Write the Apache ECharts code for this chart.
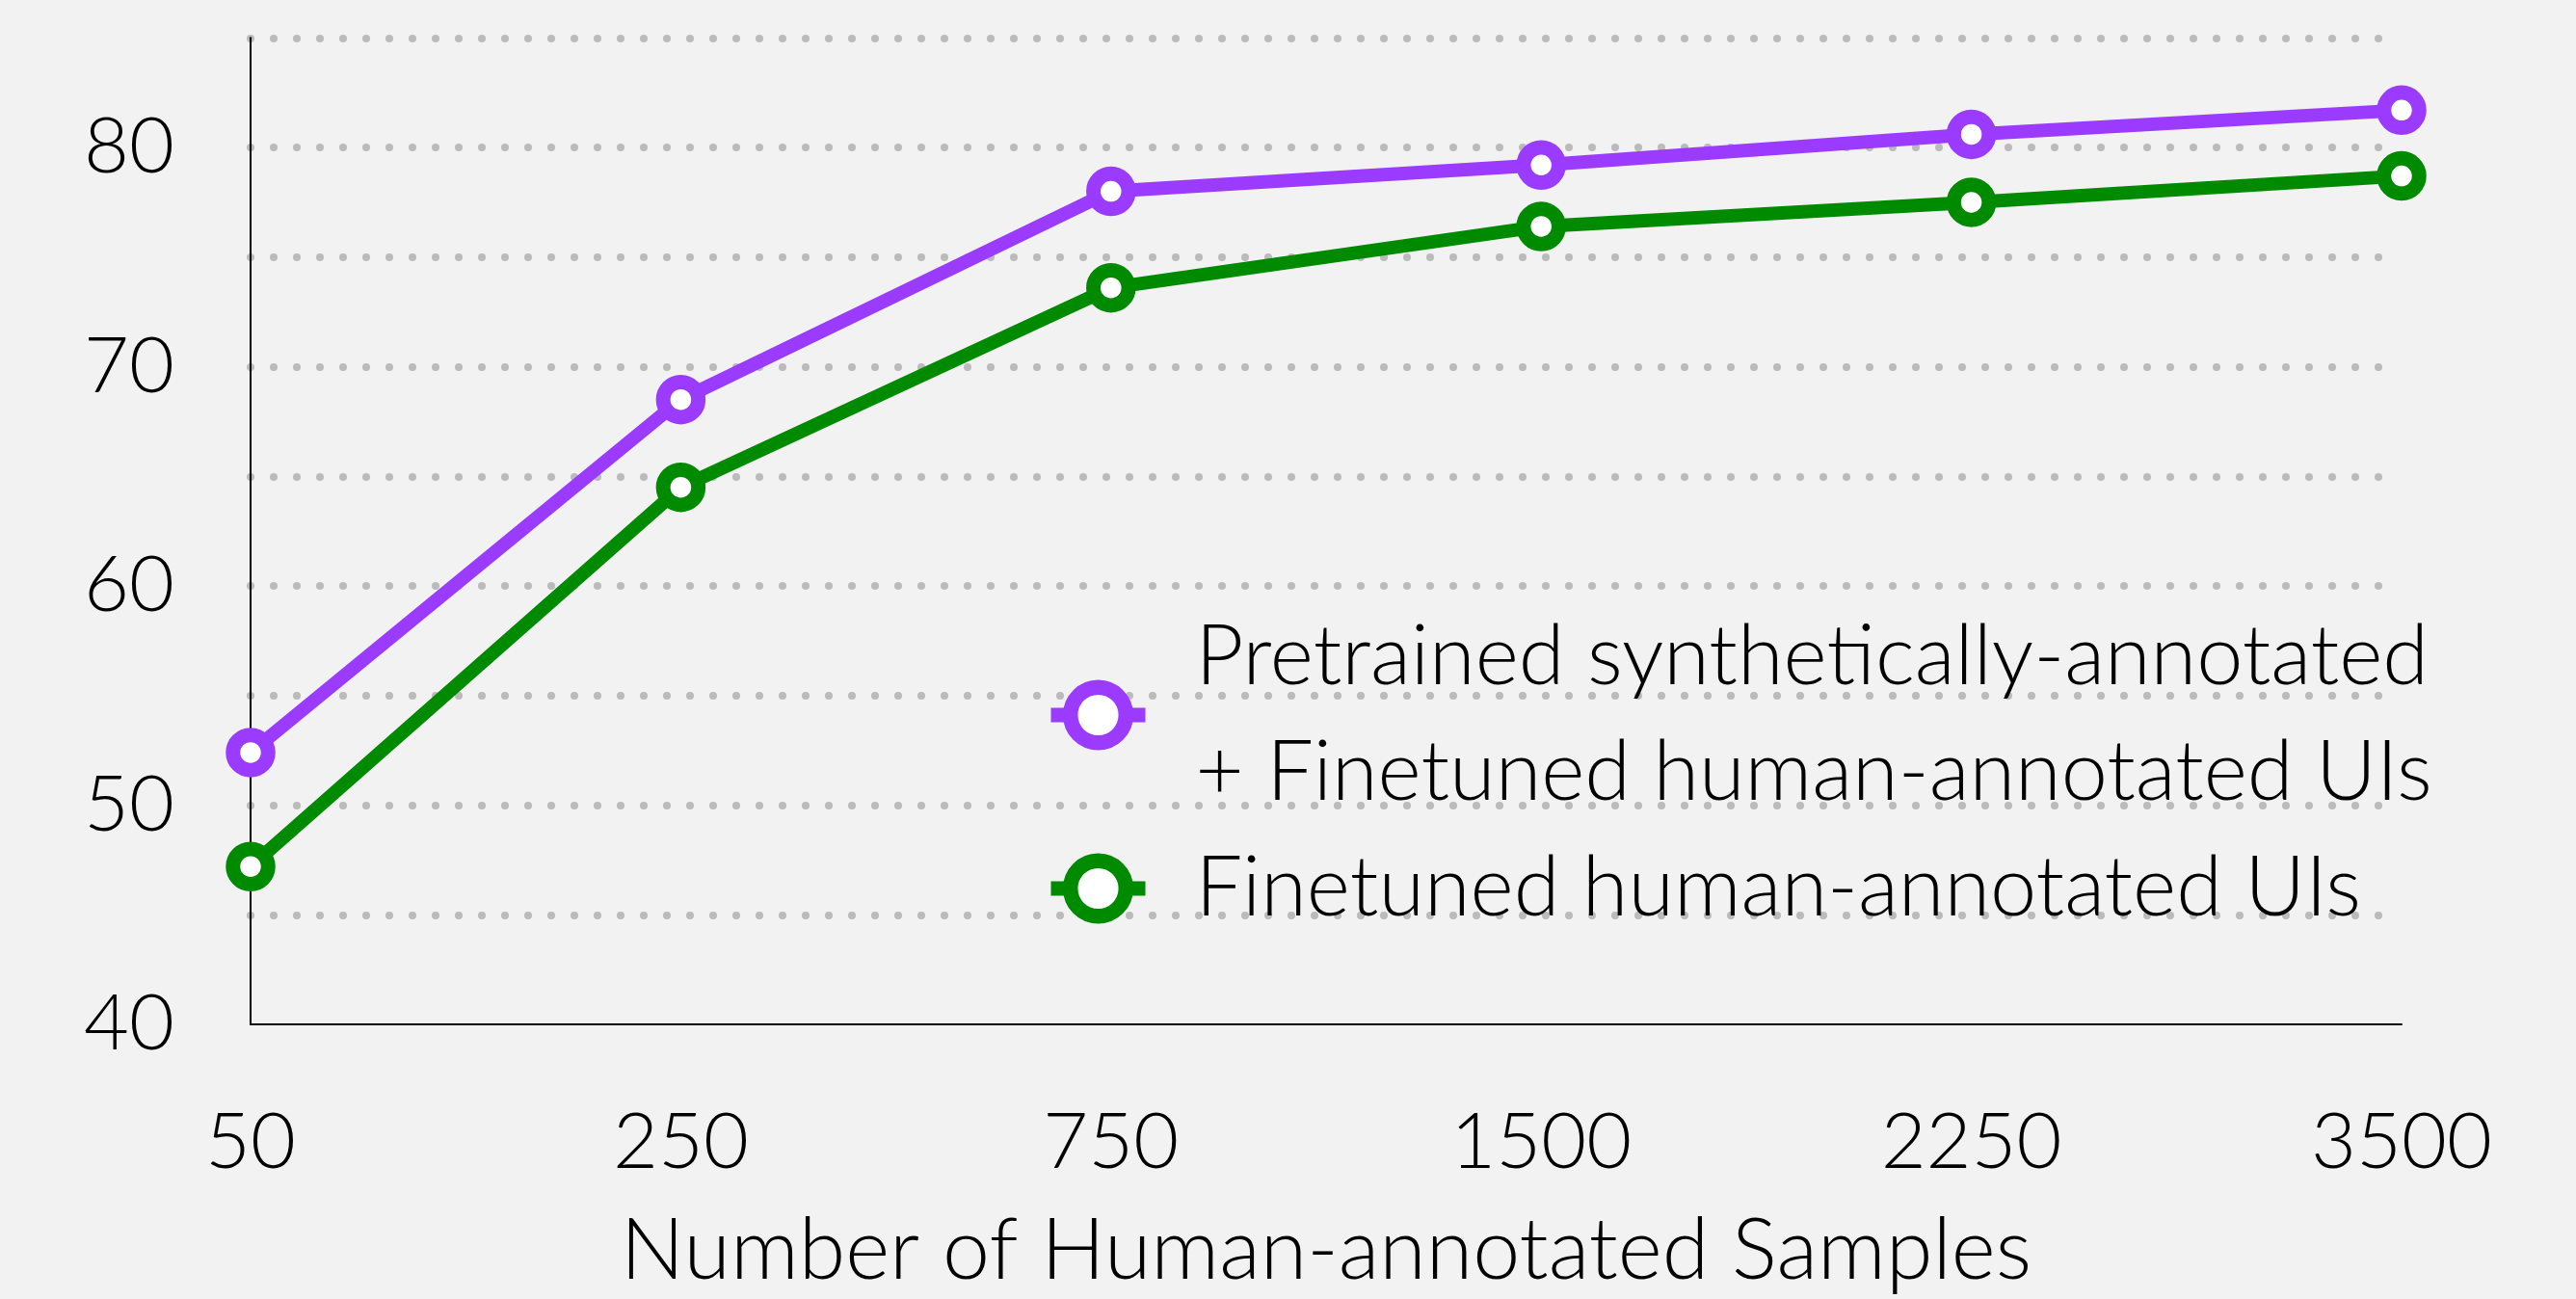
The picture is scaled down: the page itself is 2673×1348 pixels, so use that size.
<!DOCTYPE html>
<html>
<head>
<meta charset="utf-8">
<script src="https://cdn.jsdelivr.net/npm/echarts@6/dist/echarts.min.js"></script>
<style>
html,body{margin:0;padding:0;background:#f2f2f2;}
#chart{width:2673px;height:1348px;}
</style>
</head>
<body>
<div id="chart"></div>
<script>
const categories = ['50', '250', '750', '1500', '2250', '3500'];
const pretrainedName = 'Pretrained synthetically-annotated\n+ Finetuned human-annotated UIs';
const finetunedName = 'Finetuned human-annotated UIs';
const pretrainedValues = [52.4, 68.5, 78.0, 79.2, 80.6, 81.7];
const finetunedValues = [47.2, 64.5, 73.6, 76.4, 77.5, 78.7];
const yLabelValues = [40, 50, 60, 70, 80];
const xAxisTitle = 'Number of Human-annotated Samples';

const FONT = 'Lato';
const FW = 300;
const FS_LEGEND = 86.5;
const FS_NAME = 88;
const FS_TICK = 81;
const purple = '#9a3bff';
const green = '#008a00';

const chart = echarts.init(document.getElementById('chart'), null, {renderer: 'canvas'});

function seriesDef(name, data, color) {
  return {
    name: name,
    type: 'line',
    data: data,
    symbol: 'circle',
    symbolSize: 36.5,
    lineStyle: {color: color, width: 14},
    itemStyle: {color: '#ffffff', borderColor: color, borderWidth: 15},
    emphasis: {disabled: true},
    animation: false,
    z: 3
  };
}

chart.setOption({
  backgroundColor: '#f2f2f2',
  animation: false,
  grid: {left: 260, right: 181, top: 39.3, bottom: 284.5, containLabel: false},
  legend: {
    orient: 'vertical',
    left: 1083,
    top: 615,
    padding: 0,
    itemGap: -14,
    itemWidth: 98,
    itemHeight: 72,
    data: [pretrainedName, finetunedName],
    lineStyle: {width: 15},
    itemStyle: {borderWidth: 15.5},
    textStyle: {
      fontFamily: FONT, fontWeight: FW, fontSize: FS_LEGEND, color: '#000',
      lineHeight: 120, padding: [14, 0, 0, 47]
    }
  },
  xAxis: {
    type: 'category',
    data: categories,
    boundaryGap: false,
    axisLine: {show: true, lineStyle: {color: '#000', width: 2}},
    axisTick: {show: false},
    axisLabel: {fontFamily: FONT, fontWeight: FW, fontSize: FS_TICK, color: '#000', margin: 82},
    splitLine: {show: false},
    name: xAxisTitle,
    nameLocation: 'middle',
    nameGap: 192,
    nameTextStyle: {fontFamily: FONT, fontWeight: FW, fontSize: FS_NAME, color: '#000'}
  },
  yAxis: {
    type: 'value',
    min: 40,
    max: 85,
    interval: 5,
    axisLine: {show: true, lineStyle: {color: '#000', width: 2}},
    axisTick: {show: false},
    axisLabel: {
      fontFamily: FONT, fontWeight: FW, fontSize: FS_TICK, color: '#000', margin: 79,
      padding: [13, 0, 0, 0],
      formatter: function (v) { return yLabelValues.indexOf(v) >= 0 ? String(v) : ''; }
    },
    splitLine: {
      show: true,
      showMinLine: false,
      lineStyle: {color: '#bbbbbb', width: 8, type: [0, 24], cap: 'round'}
    }
  },
  series: [
    seriesDef(pretrainedName, pretrainedValues, purple),
    seriesDef(finetunedName, finetunedValues, green)
  ]
});
</script>
</body>
</html>
